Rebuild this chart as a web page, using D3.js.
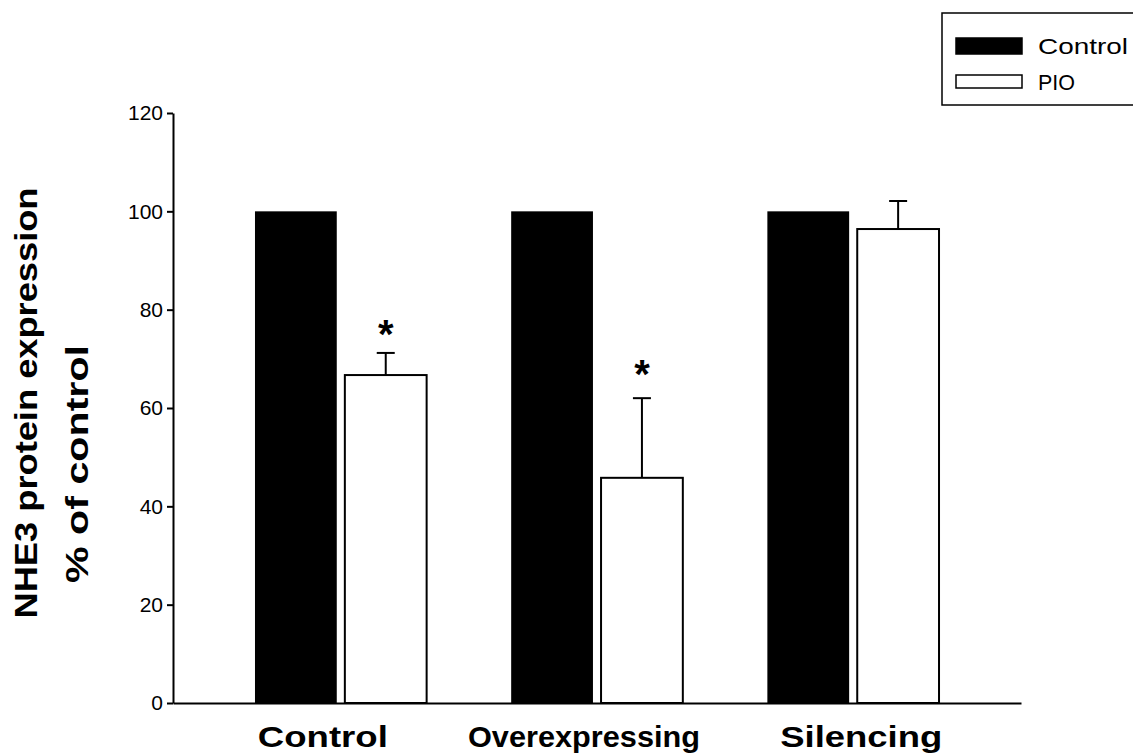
<!DOCTYPE html>
<html>
<head>
<meta charset="utf-8">
<script src="https://cdn.jsdelivr.net/npm/d3@7"></script>
<style>
  html, body { margin: 0; padding: 0; background: #fff; }
  svg { display: block; font-family: Arial, "Liberation Sans", Helvetica, sans-serif; }
</style>
</head>
<body>
<svg id="chart" width="1133" height="754"></svg>
<script>
// Groups along the x axis and the two series shown in each group
const categories = ["Control", "Overexpressing", "Silencing"];
const seriesNames = ["Control", "PIO"];

// NHE3 protein expression, % of control
const controlValues = [100, 100, 100];
const pioValues = [66.7, 45.8, 96.4];
const pioErrors = [4.5, 16.2, 5.7];

// Significance markers (value level where the asterisk sits), null = none
const pioSignificance = [78, 70, null];

const yTicks = [0, 20, 40, 60, 80, 100, 120];

// Layout: rendered width and horizontal nudge of each group label
const groupLabelLayout = {
  Control: { width: 130, shift: -18 },
  Overexpressing: { width: 232, shift: -13 },
  Silencing: { width: 162, shift: 8 }
};

const svg = d3.select("#chart");

const y = d3.scaleLinear().domain([0, 120]).range([703, 113]);

const x = d3.scaleBand()
  .domain(categories)
  .range([173, 1021])
  .paddingInner(0.33)
  .paddingOuter(0.32);

const xSeries = d3.scaleBand()
  .domain(seriesNames)
  .range([0, x.bandwidth()])
  .paddingInner(0.09);

const rows = categories.map((c, i) => ({
  category: c,
  control: controlValues[i],
  pio: pioValues[i],
  err: pioErrors[i],
  sig: pioSignificance[i]
}));

// Y axis
const yAxis = svg.append("g")
  .attr("transform", "translate(173,0)")
  .call(d3.axisLeft(y).tickValues(yTicks).tickSize(6).tickPadding(4).tickSizeOuter(0));
yAxis.select(".domain").attr("stroke", "#000").attr("stroke-width", 2);
yAxis.selectAll(".tick line").attr("stroke", "#000").attr("stroke-width", 2);
yAxis.selectAll(".tick text")
  .attr("fill", "#000")
  .style("font-size", "21px")
  .style("font-family", "Arial, 'Liberation Sans', sans-serif");

// X axis (baseline only, no ticks)
const xAxis = svg.append("g")
  .attr("transform", `translate(0,${y(0)})`)
  .call(d3.axisBottom(x).tickSize(0).tickSizeOuter(0));
xAxis.select(".domain").attr("stroke", "#000").attr("stroke-width", 2);
xAxis.selectAll(".tick text")
  .attr("fill", "#000")
  .attr("y", 44)
  .attr("dy", 0)
  .attr("x", d => groupLabelLayout[d].shift)
  .attr("textLength", d => groupLabelLayout[d].width)
  .attr("lengthAdjust", "spacingAndGlyphs")
  .style("font-size", "30px")
  .style("font-weight", "bold")
  .style("font-family", "Arial, 'Liberation Sans', sans-serif");

// Bars
const groups = svg.append("g").selectAll("g")
  .data(rows)
  .join("g")
  .attr("transform", d => `translate(${x(d.category)},0)`);

groups.append("rect")
  .attr("x", xSeries("Control"))
  .attr("y", d => y(d.control))
  .attr("width", xSeries.bandwidth())
  .attr("height", d => y(0) - y(d.control))
  .attr("fill", "#000");

// Error bars for PIO (upper only)
const pioMid = xSeries("PIO") + xSeries.bandwidth() / 2;
groups.append("line")
  .attr("x1", pioMid).attr("x2", pioMid)
  .attr("y1", d => y(d.pio)).attr("y2", d => y(d.pio + d.err))
  .attr("stroke", "#000").attr("stroke-width", 2);
groups.append("line")
  .attr("x1", pioMid - 9).attr("x2", pioMid + 9)
  .attr("y1", d => y(d.pio + d.err)).attr("y2", d => y(d.pio + d.err))
  .attr("stroke", "#000").attr("stroke-width", 2);

groups.append("rect")
  .attr("x", xSeries("PIO"))
  .attr("y", d => y(d.pio))
  .attr("width", xSeries.bandwidth())
  .attr("height", d => y(0) - y(d.pio))
  .attr("fill", "#fff")
  .attr("stroke", "#000")
  .attr("stroke-width", 2);

// Significance asterisks
groups.filter(d => d.sig != null).append("text")
  .attr("x", pioMid)
  .attr("y", d => y(d.sig))
  .attr("text-anchor", "middle")
  .attr("dy", "0.72em")
  .style("font-size", "40px")
  .style("font-weight", "bold")
  .text("*");

// Y axis title (two lines)
svg.append("text")
  .attr("transform", "translate(37,403) rotate(-90)")
  .attr("text-anchor", "middle")
  .attr("textLength", 431)
  .attr("lengthAdjust", "spacingAndGlyphs")
  .style("font-size", "32px")
  .style("font-weight", "bold")
  .text("NHE3 protein expression");
svg.append("text")
  .attr("transform", "translate(88,464) rotate(-90)")
  .attr("text-anchor", "middle")
  .attr("textLength", 238)
  .attr("lengthAdjust", "spacingAndGlyphs")
  .style("font-size", "32px")
  .style("font-weight", "bold")
  .text("% of control");

// Legend
const legend = svg.append("g").attr("transform", "translate(942,13)");
legend.append("rect")
  .attr("x", 0).attr("y", 0)
  .attr("width", 210).attr("height", 92)
  .attr("fill", "#fff").attr("stroke", "#000").attr("stroke-width", 1.5);
const legendItems = [
  { name: seriesNames[0], fill: "#000", width: 90 },
  { name: seriesNames[1], fill: "#fff", width: 37 }
];
const li = legend.selectAll("g.item")
  .data(legendItems)
  .join("g")
  .attr("class", "item")
  .attr("transform", (d, i) => `translate(14,${25 + i * 36})`);
li.append("rect")
  .attr("width", 66).attr("height", d => d.fill === "#000" ? 16 : 13)
  .attr("y", d => d.fill === "#000" ? 0 : 1)
  .attr("fill", d => d.fill)
  .attr("stroke", "#000").attr("stroke-width", 1.5);
li.append("text")
  .attr("x", 82)
  .attr("y", 8)
  .attr("dy", "0.35em")
  .attr("textLength", d => d.width)
  .attr("lengthAdjust", "spacingAndGlyphs")
  .style("font-size", "22px")
  .text(d => d.name);
</script>
</body>
</html>
